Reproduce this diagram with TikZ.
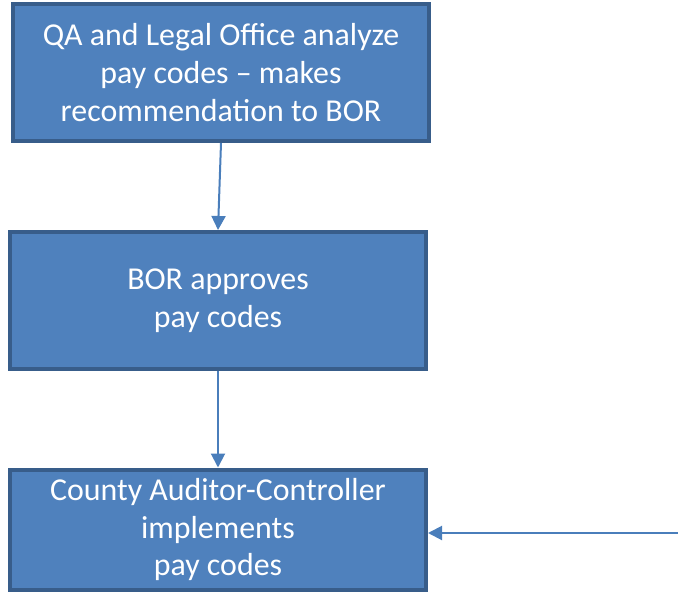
\documentclass[tikz,border=0pt]{standalone}
\usepackage{fontspec}
\setmainfont{Carlito}
\usetikzlibrary{arrows.meta, positioning}
\definecolor{boxfill}{RGB}{79, 129, 189}
\definecolor{boxline}{RGB}{56, 93, 138}
\definecolor{flowblue}{RGB}{74, 126, 187}

\tikzset{
  stepbox/.style={draw=boxline, line width=4bp, fill=boxfill, minimum width=416bp, minimum height=137bp,
    align=center, text=white, inner sep=0pt, font=\fontsize{32}{38}\selectfont},
  flow/.style={-{Triangle[length=14bp, width=14bp]}, flowblue, line width=2bp}
}

\begin{document}
\begin{tikzpicture}[x=1bp, y=-1bp]
  \useasboundingbox (0, 0) rectangle (678, 592);

  % QA / legal review
  \node[stepbox] (review) at (221, 72.5) {QA and Legal Office analyze\\pay codes -- makes\\recommendation to BOR};

  % BOR approval
  \node[stepbox] (approve) at (218, 300.5) {BOR approves\\pay codes};

  % Auditor-Controller implementation
  \node[stepbox, minimum height=120bp] (implement) at (218, 529.5) {County Auditor-Controller\\implements\\pay codes};

  \coordinate (feed) at (678, 533);

  \draw[flow] (review.south) -- (approve.north);
  \draw[flow] (approve.south) -- (implement.north);
  \draw[flow] (feed) -- (feed -| implement.east);
\end{tikzpicture}
\end{document}
